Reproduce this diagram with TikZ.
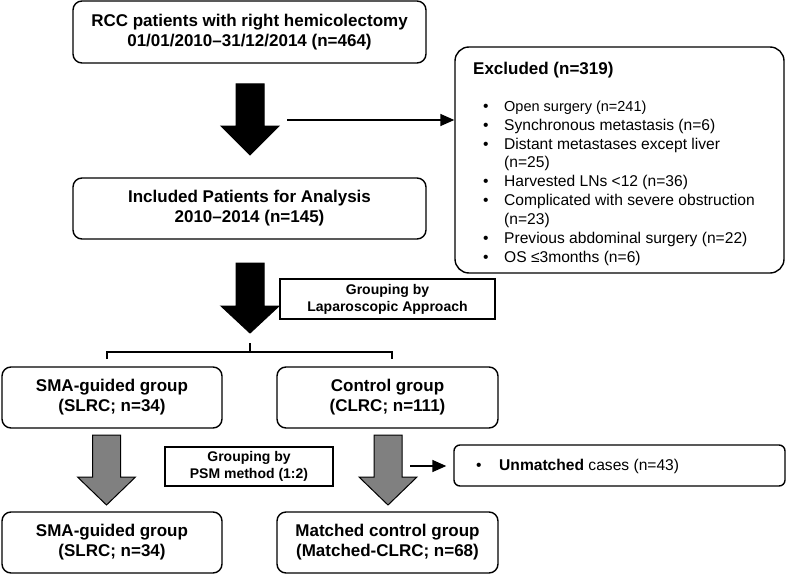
\documentclass[tikz,border=0pt]{standalone}
\usepackage{fontspec}
\setmainfont{Liberation Sans}
\usetikzlibrary{positioning,arrows.meta}

\tikzset{
  flowbox/.style={draw, line width=1.4pt, rounded corners=9pt, align=center, inner sep=0pt,
    font=\fontsize{17}{20}\selectfont\bfseries},
  notebox/.style={draw, line width=1.4pt, align=center, inner sep=0pt,
    font=\fontsize{14}{17}\selectfont\bfseries},
  listtext/.style={inner sep=0pt, font=\fontsize{15.6}{18.9}\selectfont},
  linkline/.style={line width=1.5pt, -{Triangle[length=14pt,width=12pt]}},
}

% block arrow: fill colour, centre x, top y, head start y, tip y
\newcommand{\blockarrow}[5]{%
  \draw[line width=1pt, fill=#1] ({#2-14},#3) -- ({#2+14},#3) -- ({#2+14},#4) -- ({#2+29},#4)
    -- (#2,#5) -- ({#2-29},#4) -- ({#2-14},#4) -- cycle;}

\begin{document}
\begin{tikzpicture}[x=1pt, y=-1pt]
  \useasboundingbox (0,0) rectangle (786,575);

  % main column
  \node[flowbox, minimum width=353pt, minimum height=62pt] (rcc) at (249.5,32)
    {RCC patients with right hemicolectomy\\01/01/2010--31/12/2014 (n=464)};
  \node[flowbox, minimum width=353pt, minimum height=61pt] (incl) at (249.5,208.5)
    {Included Patients for Analysis\\2010--2014 (n=145)};

  % excluded
  \node[flowbox, rounded corners=14pt, minimum width=329pt, minimum height=226pt] (excl) at (619.5,160) {};
  \node[anchor=west, inner sep=0pt, font=\fontsize{17}{20}\selectfont\bfseries] (excltitle) at (473,70.5)
    {Excluded (n=319)};
  \node[listtext, anchor=north west] (excllist) at (483,97.8) {%
    \begin{tabular}{@{}p{21pt}@{}l@{}}
      \textbullet & {\fontsize{14.5}{18.9}\selectfont Open surgery (n=241)}\\
      \textbullet & Synchronous metastasis (n=6)\\
      \textbullet & Distant metastases except liver\\
                  & (n=25)\\
      \textbullet & Harvested LNs <12 (n=36)\\
      \textbullet & Complicated with severe obstruction\\
                  & (n=23)\\
      \textbullet & Previous abdominal surgery (n=22)\\
      \textbullet & OS ≤3months (n=6)
    \end{tabular}};

  \blockarrow{black}{250}{84}{126}{155}
  \coordinate (exclsrc) at (287,120);
  \draw[linkline] (exclsrc) -- (exclsrc -| excl.west);

  \blockarrow{black}{250}{263}{306}{333}
  \node[notebox, minimum width=215pt, minimum height=40pt] (grplap) at (387.5,299)
    {Grouping by\\Laparoscopic Approach};

  % split
  \draw[line width=1.2pt] (107,359) -- (107,352) -- (392,352) -- (392,359);
  \draw[line width=1.2pt] (250,352) -- (250,343);

  \node[flowbox, minimum width=220pt, minimum height=61pt] (slrc) at (112,397.5)
    {SMA-guided group\\(SLRC; n=34)};
  \node[flowbox, minimum width=221pt, minimum height=61pt] (clrc) at (387.5,397.5)
    {Control group\\(CLRC; n=111)};

  \blockarrow{gray}{106.5}{435}{477}{505}
  \blockarrow{gray}{388}{435}{477}{505}
  \node[notebox, minimum width=168pt, minimum height=39pt] (grppsm) at (249,466.5)
    {Grouping by\\PSM method (1:2)};

  \node[draw, line width=1.4pt, rounded corners=6pt, minimum width=331pt, minimum height=41pt] (unm) at (619.5,465.5) {};
  \node[listtext, anchor=west] (unmtext) at (476,466)
    {\makebox[23pt][l]{\textbullet}\textbf{Unmatched} cases (n=43)};
  \coordinate (unmsrc) at (410,466);
  \draw[linkline, shorten >=7pt] (unmsrc) -- (unmsrc -| unm.west);

  \node[flowbox, minimum width=220pt, minimum height=61pt] (slrcm) at (112,542.5)
    {SMA-guided group\\(SLRC; n=34)};
  \node[flowbox, minimum width=221pt, minimum height=61pt] (clrcm) at (387.5,542.5)
    {Matched control group\\(Matched-CLRC; n=68)};
\end{tikzpicture}
\end{document}
